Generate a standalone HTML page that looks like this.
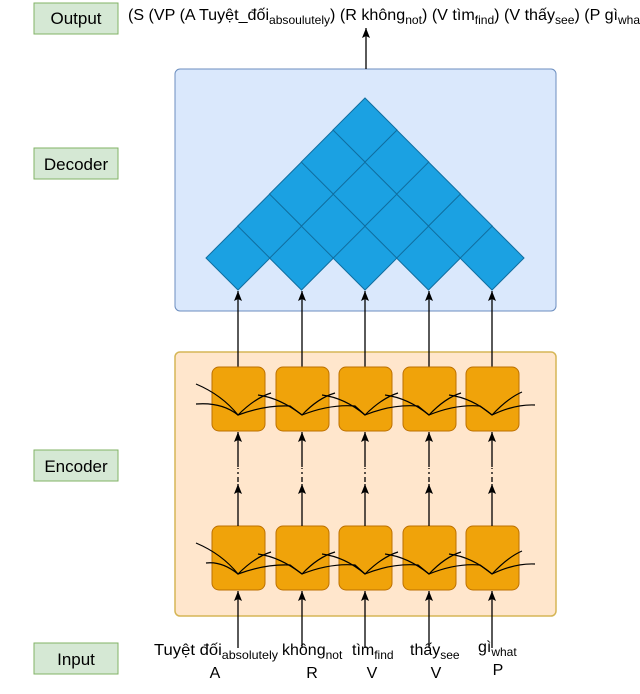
<!DOCTYPE html>
<html><head><meta charset="utf-8"><style>
html,body{margin:0;padding:0;background:#fff;}
svg{display:block;font-family:"Liberation Sans",sans-serif;}
</style></head><body>
<svg width="640" height="694" viewBox="0 0 640 694" xmlns="http://www.w3.org/2000/svg">
<defs><marker id="a" markerWidth="12" markerHeight="12" refX="10" refY="5" orient="auto" markerUnits="userSpaceOnUse"><path d="M0,1 L10,5 L0,9 L2,5 Z" fill="#000"/></marker></defs>
<g font-size="17" fill="#000">
<rect x="34" y="3" width="84" height="31" fill="#d5e8d4" stroke="#82b366"/>
<text x="76" y="24" text-anchor="middle">Output</text>
<rect x="34" y="148" width="84" height="31" fill="#d5e8d4" stroke="#82b366"/>
<text x="76" y="170" text-anchor="middle">Decoder</text>
<rect x="34" y="450" width="84" height="31" fill="#d5e8d4" stroke="#82b366"/>
<text x="76" y="472" text-anchor="middle">Encoder</text>
<rect x="34" y="643" width="84" height="31" fill="#d5e8d4" stroke="#82b366"/>
<text x="76" y="665" text-anchor="middle">Input</text>
</g>
<text x="128" y="20" font-size="16" textLength="490" lengthAdjust="spacingAndGlyphs">(S (VP (A Tuyệt_đối<tspan font-size="12" dy="4">absoulutely</tspan><tspan dy="-4">) (R không</tspan><tspan font-size="12" dy="4">not</tspan><tspan dy="-4">) (V tìm</tspan><tspan font-size="12" dy="4">find</tspan><tspan dy="-4">) (V thấy</tspan><tspan font-size="12" dy="4">see</tspan><tspan dy="-4">) (P  gì</tspan></text>
<text x="618" y="24" font-size="12">what</text>
<rect x="175" y="69" width="381" height="242" rx="5" fill="#dae8fc" stroke="#6c8ebf"/>
<line x1="366" y1="69" x2="366" y2="28" stroke="#000" stroke-width="1.3" marker-end="url(#a)"/>
<g fill="#1ba1e2" stroke="#106ea0" stroke-width="1">
<path d="M238,226 l32,32 l-32,32 l-32,-32Z"/><path d="M301.5,226 l32,32 l-32,32 l-32,-32Z"/><path d="M365,226 l32,32 l-32,32 l-32,-32Z"/><path d="M428.5,226 l32,32 l-32,32 l-32,-32Z"/><path d="M492,226 l32,32 l-32,32 l-32,-32Z"/>
<path d="M269.75,194 l32,32 l-32,32 l-32,-32Z"/><path d="M333.25,194 l32,32 l-32,32 l-32,-32Z"/><path d="M396.75,194 l32,32 l-32,32 l-32,-32Z"/><path d="M460.25,194 l32,32 l-32,32 l-32,-32Z"/>
<path d="M301.5,162 l32,32 l-32,32 l-32,-32Z"/><path d="M365,162 l32,32 l-32,32 l-32,-32Z"/><path d="M428.5,162 l32,32 l-32,32 l-32,-32Z"/>
<path d="M333.25,130 l32,32 l-32,32 l-32,-32Z"/><path d="M396.75,130 l32,32 l-32,32 l-32,-32Z"/>
<path d="M365,98 l32,32 l-32,32 l-32,-32Z"/>
</g>
<rect x="175" y="352" width="381" height="264" rx="5" fill="#ffe6cc" stroke="#d6b656" stroke-width="1.5"/>
<g stroke="#000" stroke-width="1.3" fill="none">
<line x1="238" y1="367" x2="238" y2="291" marker-end="url(#a)"/>
<line x1="302" y1="367" x2="302" y2="291" marker-end="url(#a)"/>
<line x1="365" y1="367" x2="365" y2="291" marker-end="url(#a)"/>
<line x1="429" y1="367" x2="429" y2="291" marker-end="url(#a)"/>
<line x1="492" y1="367" x2="492" y2="291" marker-end="url(#a)"/>
</g>
<g fill="#f0a30a" stroke="#bd7000" stroke-width="1">
<rect x="212" y="367" width="53" height="64" rx="7"/><rect x="276" y="367" width="53" height="64" rx="7"/><rect x="339" y="367" width="53" height="64" rx="7"/><rect x="403" y="367" width="53" height="64" rx="7"/><rect x="466" y="367" width="53" height="64" rx="7"/>
<rect x="212" y="526" width="53" height="64" rx="7"/><rect x="276" y="526" width="53" height="64" rx="7"/><rect x="339" y="526" width="53" height="64" rx="7"/><rect x="403" y="526" width="53" height="64" rx="7"/><rect x="466" y="526" width="53" height="64" rx="7"/>
</g>
<g stroke="#000" stroke-width="1.2" fill="none">
<path d="M196,384 Q222,395 238,415 Q255,398 271,393"/>
<path d="M196,404 Q222,402 238,415 Q265,405 290,406 Q290,406 302,415 Q318,398 335,393"/>
<path d="M302,415 Q330,404 355,406 L365,415 Q382,398 398,393"/>
<path d="M365,415 Q392,404 418,406 L429,415 Q445,398 461,393"/>
<path d="M429,415 Q456,404 480,406 L492,415 Q508,398 522,392"/>
<path d="M492,415 Q515,404 535,405"/>
<path d="M258,395 Q280,398 302,415"/><path d="M322,395 Q345,398 365,415"/><path d="M385,395 Q408,398 429,415"/><path d="M449,395 Q472,398 492,415"/>
<path d="M196,543 Q222,554 238,574 Q255,557 271,552"/>
<path d="M206,563 Q222,561 238,574 Q265,564 290,565 L302,574 Q318,557 335,552"/>
<path d="M302,574 Q330,563 355,565 L365,574 Q382,557 398,552"/>
<path d="M365,574 Q392,563 418,565 L429,574 Q445,557 461,552"/>
<path d="M429,574 Q456,563 480,565 L492,574 Q508,557 522,551"/>
<path d="M492,574 Q515,563 535,564"/>
<path d="M258,554 Q280,557 302,574"/><path d="M322,554 Q345,557 365,574"/><path d="M385,554 Q408,557 429,574"/><path d="M449,554 Q472,557 492,574"/>
</g>
<g stroke="#000" stroke-width="1.3" fill="none">
<line x1="238" y1="526" x2="238" y2="484" marker-end="url(#a)"/><line x1="238" y1="482" x2="238" y2="468" stroke-dasharray="5,3,2,3"/><line x1="238" y1="467" x2="238" y2="432" marker-end="url(#a)"/>
<line x1="302" y1="526" x2="302" y2="484" marker-end="url(#a)"/><line x1="302" y1="482" x2="302" y2="468" stroke-dasharray="5,3,2,3"/><line x1="302" y1="467" x2="302" y2="432" marker-end="url(#a)"/>
<line x1="365" y1="526" x2="365" y2="484" marker-end="url(#a)"/><line x1="365" y1="482" x2="365" y2="468" stroke-dasharray="5,3,2,3"/><line x1="365" y1="467" x2="365" y2="432" marker-end="url(#a)"/>
<line x1="429" y1="526" x2="429" y2="484" marker-end="url(#a)"/><line x1="429" y1="482" x2="429" y2="468" stroke-dasharray="5,3,2,3"/><line x1="429" y1="467" x2="429" y2="432" marker-end="url(#a)"/>
<line x1="492" y1="526" x2="492" y2="484" marker-end="url(#a)"/><line x1="492" y1="482" x2="492" y2="468" stroke-dasharray="5,3,2,3"/><line x1="492" y1="467" x2="492" y2="432" marker-end="url(#a)"/>
<line x1="238" y1="648" x2="238" y2="591" marker-end="url(#a)"/>
<line x1="302" y1="648" x2="302" y2="591" marker-end="url(#a)"/>
<line x1="365" y1="648" x2="365" y2="591" marker-end="url(#a)"/>
<line x1="429" y1="648" x2="429" y2="591" marker-end="url(#a)"/>
<line x1="492" y1="648" x2="492" y2="591" marker-end="url(#a)"/>
</g>
<g font-size="16" fill="#000">
<text x="154" y="655" textLength="124" lengthAdjust="spacingAndGlyphs">Tuyệt đối<tspan font-size="12" dy="4">absolutely</tspan></text>
<text x="282" y="655">không<tspan font-size="12" dy="4">not</tspan></text>
<text x="352" y="655">tìm<tspan font-size="12" dy="4">find</tspan></text>
<text x="410" y="655">thấy<tspan font-size="12" dy="4">see</tspan></text>
<text x="478" y="652">gì<tspan font-size="12" dy="4">what</tspan></text>
<text x="215" y="678" text-anchor="middle">A</text>
<text x="312" y="678" text-anchor="middle">R</text>
<text x="372" y="678" text-anchor="middle">V</text>
<text x="436" y="678" text-anchor="middle">V</text>
<text x="498" y="675" text-anchor="middle">P</text>
</g>
</svg>
</body></html>
